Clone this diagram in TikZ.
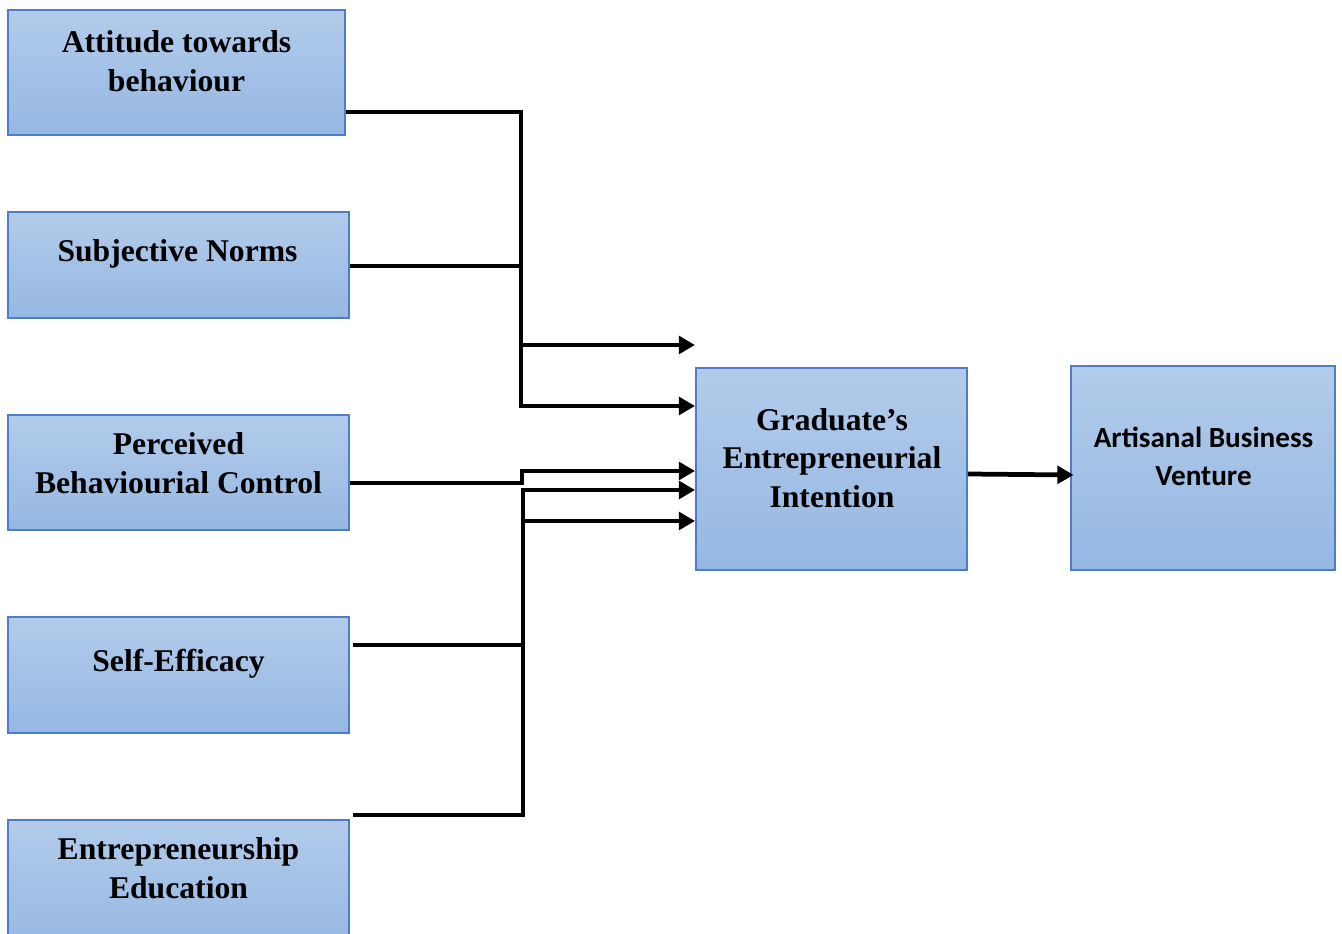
\documentclass[tikz,border=0pt]{standalone}
\usepackage{fontspec}
\setmainfont{Liberation Serif}
\newfontfamily\calib{Carlito}
\usetikzlibrary{arrows.meta}
\definecolor{boxtop}{RGB}{178,203,234}
\definecolor{boxbot}{RGB}{149,184,227}
\definecolor{boxline}{RGB}{79,124,200}

\begin{document}
\begin{tikzpicture}[x=0.01cm,y=-0.01cm,
    box/.style={rectangle,draw=boxline,line width=0.5pt,top color=boxtop,bottom color=boxbot,inner sep=0pt},
    txt/.style={align=center,font=\bfseries\fontsize{9}{11}\selectfont},
    wire/.style={line width=1.35pt},
    feed/.style={wire,-{Triangle[length=4.6pt,width=5pt]}}]
      \useasboundingbox (0,0) rectangle (1342,934);
      % input boxes
      \node[box,minimum width=3.37cm,minimum height=1.25cm] (A) at (176.5,72.5) {};
      \node[box,minimum width=3.41cm,minimum height=1.06cm] (S) at (178.5,265) {};
      \node[box,minimum width=3.41cm,minimum height=1.15cm] (P) at (178.5,472.5) {};
      \node[box,minimum width=3.41cm,minimum height=1.16cm] (SE) at (178.5,675) {};
      \node[box,minimum width=3.41cm,minimum height=1.30cm] (E) at (178.5,885) {};
      \node[box,minimum width=2.71cm,minimum height=2.02cm] (G) at (831.5,469) {};
      \node[box,minimum width=2.64cm,minimum height=2.04cm] (V) at (1203,468) {};
\node[txt] (Atxt) at (176.5,61) {Attitude towards\\behaviour};
\node[txt] (Stxt) at (177.5,254) {Subjective Norms};
\node[txt] (Ptxt) at (178.5,463.5) {Perceived\\Behaviourial Control};
\node[txt] (SEtxt) at (178.5,664) {Self-Efficacy};
\node[txt] (Etxt) at (178.5,868.5) {Entrepreneurship\\Education};
\node[txt] (Gtxt) at (832,458) {Graduate’s\\Entrepreneurial\\Intention};
\node[txt,font=\calib\bfseries\fontsize{8.3}{11}\selectfont] (Vtxt) at (1203.5,456.5) {Artisanal Business\\Venture};
      % connectors
      \coordinate (free) at (695,345);
      \draw[feed] (A.east |- 0,112) -| (521,345) -- (free);
      \draw[feed] (S.east |- 0,266) -- (521,266) -- (521,406) -- (G.west |- 0,406);
      \draw[feed] (P.east |- 0,483) -- (522,483) -- (522,471) -- (G.west |- 0,471);
      \draw[feed] ([xshift=1pt]SE.east |- 0,645) -| (523,490) -- (G.west |- 0,490);
      \draw[feed] ([xshift=1pt]E.east |- 0,815) -| (523,521) -- (G.west |- 0,521);
      \draw[feed] (G.east |- 0,474) -- ([xshift=1pt]V.west |- 0,475);
    \end{tikzpicture}
\end{document}
